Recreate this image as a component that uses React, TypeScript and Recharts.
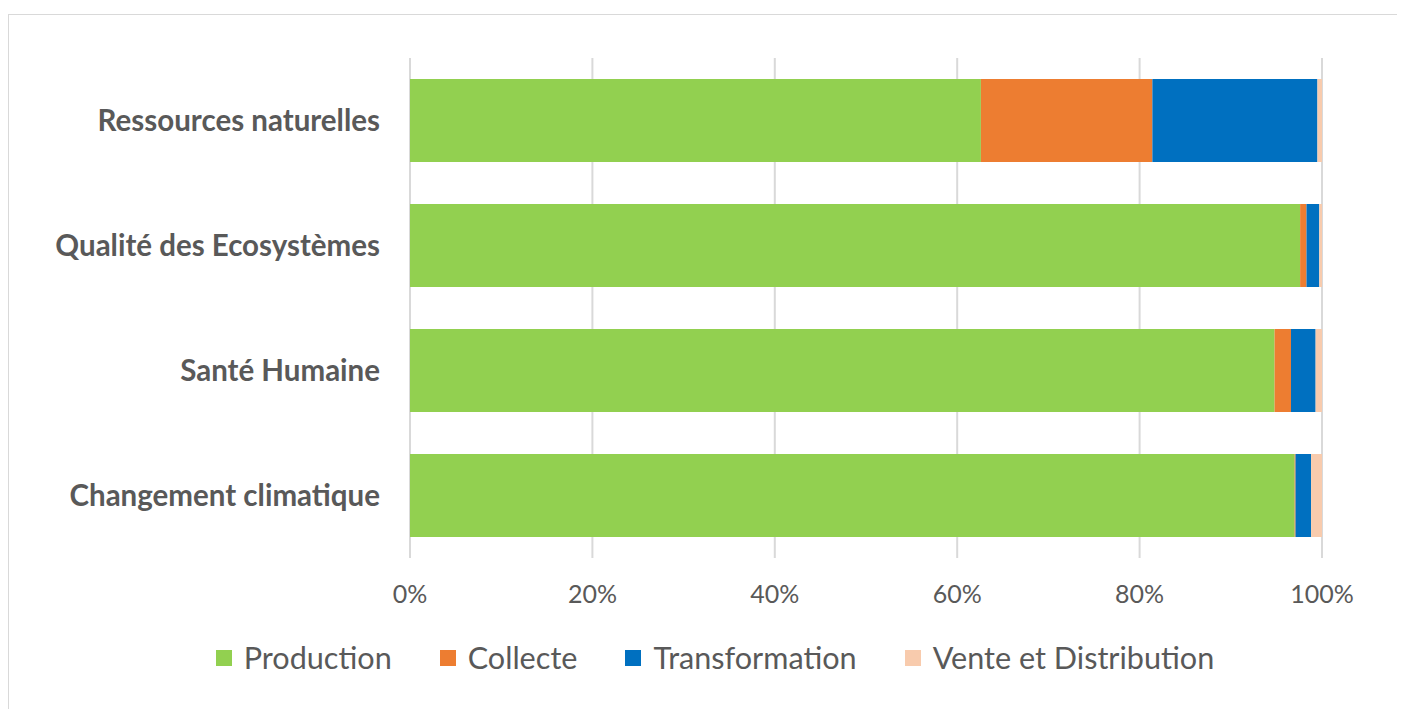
import { Bar, BarChart, CartesianGrid, Legend, XAxis, YAxis } from "recharts";

const categories = ["Ressources naturelles", "Qualité des Ecosystèmes", "Santé Humaine", "Changement climatique"];
const production = [62.6, 97.6, 94.8, 97.0];
const collecte = [18.8, 0.7, 1.8, 0.1];
const transformation = [18.1, 1.4, 2.7, 1.7];
const venteDistribution = [0.5, 0.3, 0.7, 1.2];
const xTicks = [0, 20, 40, 60, 80, 100];

const series = [
  { key: "production", name: "Production", color: "#92D050" },
  { key: "collecte", name: "Collecte", color: "#ED7D31" },
  { key: "transformation", name: "Transformation", color: "#0070C0" },
  { key: "vente", name: "Vente et Distribution", color: "#F8CBAD" },
];

const data = categories.map((name, i) => ({
  name,
  production: production[i],
  collecte: collecte[i],
  transformation: transformation[i],
  vente: venteDistribution[i],
}));

const FONT = "Lato, 'Open Sans', sans-serif";

function LegendContent() {
  return (
    <div style={{ display: "flex", justifyContent: "center", alignItems: "center", fontFamily: FONT, fontSize: 30.6, color: "#595959", lineHeight: "34px", paddingLeft: 16 }}>
      {series.map((s) => (
        <div key={s.key} style={{ display: "flex", alignItems: "center", margin: "0 24px" }}>
          <span style={{ width: 16, height: 16, background: s.color, marginRight: 12, display: "inline-block" }} />
          <span>{s.name}</span>
        </div>
      ))}
    </div>
  );
}

export default function App() {
  return (
    <div style={{ paddingTop: 6 }}>
      <div
        style={{
          width: 1396,
          height: 694,
          borderTop: "1px solid #d9d9d9",
          borderLeft: "1px solid #d9d9d9",
          background: "#fff",
        }}
      >
        <BarChart
          width={1396}
          height={690}
          data={data}
          layout="vertical"
          barCategoryGap={21}
          margin={{ top: 43, right: 83, left: 0, bottom: 30 }}
        >
          <CartesianGrid horizontal={false} stroke="#d9d9d9" strokeWidth={2} />
          <XAxis
            type="number"
            domain={[0, 100]}
            ticks={xTicks}
            tickFormatter={(v) => `${v}%`}
            axisLine={false}
            tickLine={false}
            tickMargin={21}
            height={83}
            tick={{ fill: "#595959", fontSize: 25, fontFamily: FONT }}
          />
          <YAxis
            type="category"
            dataKey="name"
            width={401}
            axisLine={false}
            tickLine={false}
            tickMargin={24}
            tick={{ fill: "#595959", fontSize: 29.5, fontWeight: 700, fontFamily: FONT }}
          />
          <Legend verticalAlign="bottom" content={LegendContent} wrapperStyle={{ width: 1396, left: 0 }} />
          {series.map((s) => (
            <Bar key={s.key} dataKey={s.key} name={s.name} stackId="a" fill={s.color} isAnimationActive={false} />
          ))}
        </BarChart>
      </div>
    </div>
  );
}
